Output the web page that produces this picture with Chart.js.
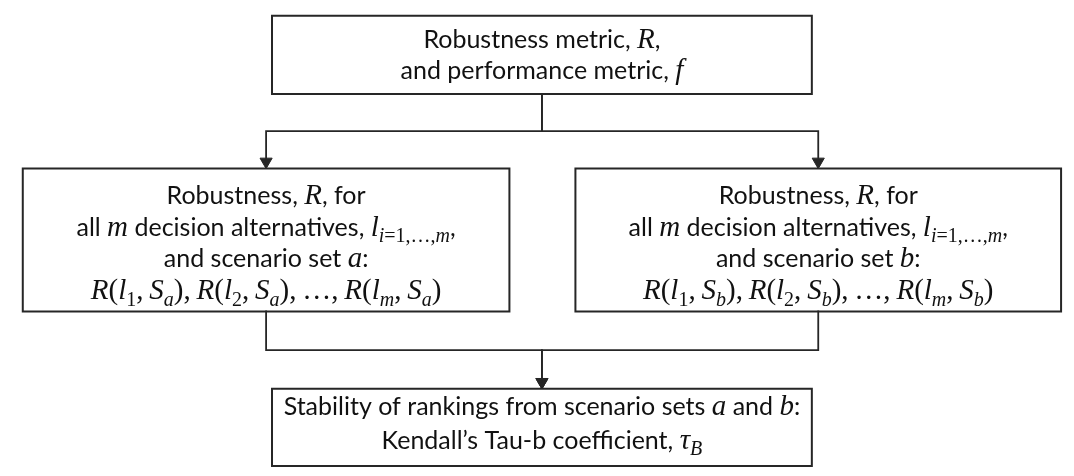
<!DOCTYPE html>
<html>
<head>
<meta charset="utf-8">
<script src="https://cdn.jsdelivr.net/npm/chart.js@4"></script>
<style>
  body { margin: 0; background: #ffffff; }
  canvas { display: block; }
</style>
</head>
<body>
<canvas id="flow" width="1074" height="476"></canvas>
<script>
// flowchart content: node ids, their text lines ($...$ = math, _ = subscript) and the edges
const nodeIds = ["metrics", "setA", "setB", "stability"];

const nodeLines = [
  ["Robustness metric, $R$,", "and performance metric, $f$"],
  ["Robustness, $R$, for", "all $m$ decision alternatives, $l_{i=1,…,m}$,", "and scenario set $a$:", "$R(l_1,S_a),R(l_2,S_a),…,R(l_m,S_a)$"],
  ["Robustness, $R$, for", "all $m$ decision alternatives, $l_{i=1,…,m}$,", "and scenario set $b$:", "$R(l_1,S_b),R(l_2,S_b),…,R(l_m,S_b)$"],
  ["Stability of rankings from scenario sets $a$ and $b$:", "Kendall’s Tau-b coefficient, $τ_B$"],
];

const edgeFrom = ["metrics", "metrics", "setA", "setB"];
const edgeTo = ["setA", "setB", "stability", "stability"];

// box placement in axis units (x 0..1074, y 0..476 top-down), first text baseline and line step
const nodeBoxes = {
  metrics: { left: 268, right: 816, top: 8, bottom: 89, baseline: 41, step: 32 },
  setA: { left: 15, right: 509, top: 166, bottom: 314, baseline: 202.5, step: 33 },
  setB: { left: 576, right: 1069, top: 166, bottom: 314, baseline: 202.5, step: 33 },
  stability: { left: 268, right: 816, top: 394, bottom: 474, baseline: 421, step: 35 },
};

const lineColor = "#262626";
const textColor = "#111111";
const textSize = 25;
const mathSize = 29;
const arrowRadius = 7;

function centerX(box) {
  return (box.left + box.right) / 2;
}

function boxDataset(id) {
  const b = nodeBoxes[id];
  return {
    type: "line",
    data: [
      { x: b.left, y: b.top },
      { x: b.right, y: b.top },
      { x: b.right, y: b.bottom },
      { x: b.left, y: b.bottom },
      { x: b.left, y: b.top },
    ],
    borderColor: lineColor,
    borderWidth: 2,
    borderCapStyle: "square",
    borderJoinStyle: "miter",
    pointRadius: 0,
    fill: false,
    tension: 0,
  };
}

function edgeDataset(from, to) {
  const a = nodeBoxes[from];
  const b = nodeBoxes[to];
  const midY = (a.bottom + b.top) / 2;
  return {
    type: "line",
    data: [
      { x: centerX(a), y: a.bottom },
      { x: centerX(a), y: midY },
      { x: centerX(b), y: midY },
      { x: centerX(b), y: b.top - arrowRadius },
    ],
    borderColor: lineColor,
    borderWidth: 1.8,
    borderCapStyle: "square",
    pointRadius: 0,
    fill: false,
    tension: 0,
  };
}

function arrowDataset() {
  return {
    type: "scatter",
    data: edgeTo.map(function (id) {
      const b = nodeBoxes[id];
      return { x: centerX(b), y: b.top - arrowRadius };
    }),
    pointStyle: "triangle",
    rotation: 180,
    pointRadius: arrowRadius,
    backgroundColor: lineColor,
    borderColor: lineColor,
    borderWidth: 1,
  };
}

// split a label into runs of plain text, math italic, math upright and subscripts
function parseLine(str) {
  const runs = [];
  let math = false;

  function push(style, ch) {
    const last = runs[runs.length - 1];
    if (last && last.style === style) {
      last.text += ch;
    } else {
      runs.push({ style: style, text: ch });
    }
  }

  function isLetter(ch) {
    return /[A-Za-zα-ω]/.test(ch);
  }

  for (let i = 0; i < str.length; i++) {
    const ch = str[i];
    if (ch === "$") {
      math = !math;
      continue;
    }
    if (!math) {
      push("t", ch);
      continue;
    }
    if (ch === "_") {
      let group;
      if (str[i + 1] === "{") {
        const end = str.indexOf("}", i);
        group = str.slice(i + 2, end);
        i = end;
      } else {
        group = str[i + 1];
        i++;
      }
      for (const g of group) {
        push(isLetter(g) ? "si" : "su", g);
      }
      continue;
    }
    push(isLetter(ch) ? "mi" : "mu", ch);
    if (ch === ",") {
      runs.push({ style: "gap", text: "" });
    }
  }
  return runs;
}

function runFont(style) {
  const sub = Math.round(mathSize * 0.7);
  if (style === "t") return textSize + "px Lato";
  if (style === "mi") return "italic " + mathSize + 'px "Liberation Serif"';
  if (style === "mu") return mathSize + 'px "Liberation Serif"';
  if (style === "si") return "italic " + sub + 'px "Liberation Serif"';
  return sub + 'px "Liberation Serif"';
}

function runWidth(ctx, run) {
  if (run.style === "gap") return mathSize * 0.2;
  ctx.font = runFont(run.style);
  return ctx.measureText(run.text).width;
}

function drawRichLine(ctx, str, cx, baseline) {
  const runs = parseLine(str);
  const total = runs.reduce(function (sum, run) {
    return sum + runWidth(ctx, run);
  }, 0);
  let x = cx - total / 2;
  runs.forEach(function (run) {
    const w = runWidth(ctx, run);
    if (run.style !== "gap") {
      ctx.font = runFont(run.style);
      const dy = run.style === "si" || run.style === "su" ? mathSize * 0.22 : 0;
      ctx.fillText(run.text, x, baseline + dy);
    }
    x += w;
  });
}

const labelPlugin = {
  id: "nodeLabels",
  afterDatasetsDraw: function (chart) {
    const ctx = chart.ctx;
    const xs = chart.scales.x;
    const ys = chart.scales.y;
    ctx.save();
    ctx.fillStyle = textColor;
    ctx.textBaseline = "alphabetic";
    ctx.textAlign = "left";
    nodeIds.forEach(function (id, i) {
      const b = nodeBoxes[id];
      const cx = xs.getPixelForValue(centerX(b));
      nodeLines[i].forEach(function (line, k) {
        drawRichLine(ctx, line, cx, ys.getPixelForValue(b.baseline + k * b.step));
      });
    });
    ctx.restore();
  },
};

const datasets = []
  .concat(nodeIds.map(boxDataset))
  .concat(edgeFrom.map(function (from, i) {
    return edgeDataset(from, edgeTo[i]);
  }))
  .concat([arrowDataset()]);

new Chart(document.getElementById("flow"), {
  type: "scatter",
  data: { datasets: datasets },
  options: {
    responsive: false,
    animation: false,
    layout: { padding: 0 },
    plugins: {
      legend: { display: false },
      tooltip: { enabled: false },
    },
    scales: {
      x: { type: "linear", min: 0, max: 1074, display: false },
      y: { type: "linear", min: 0, max: 476, reverse: true, display: false },
    },
  },
  plugins: [labelPlugin],
});
</script>
</body>
</html>
